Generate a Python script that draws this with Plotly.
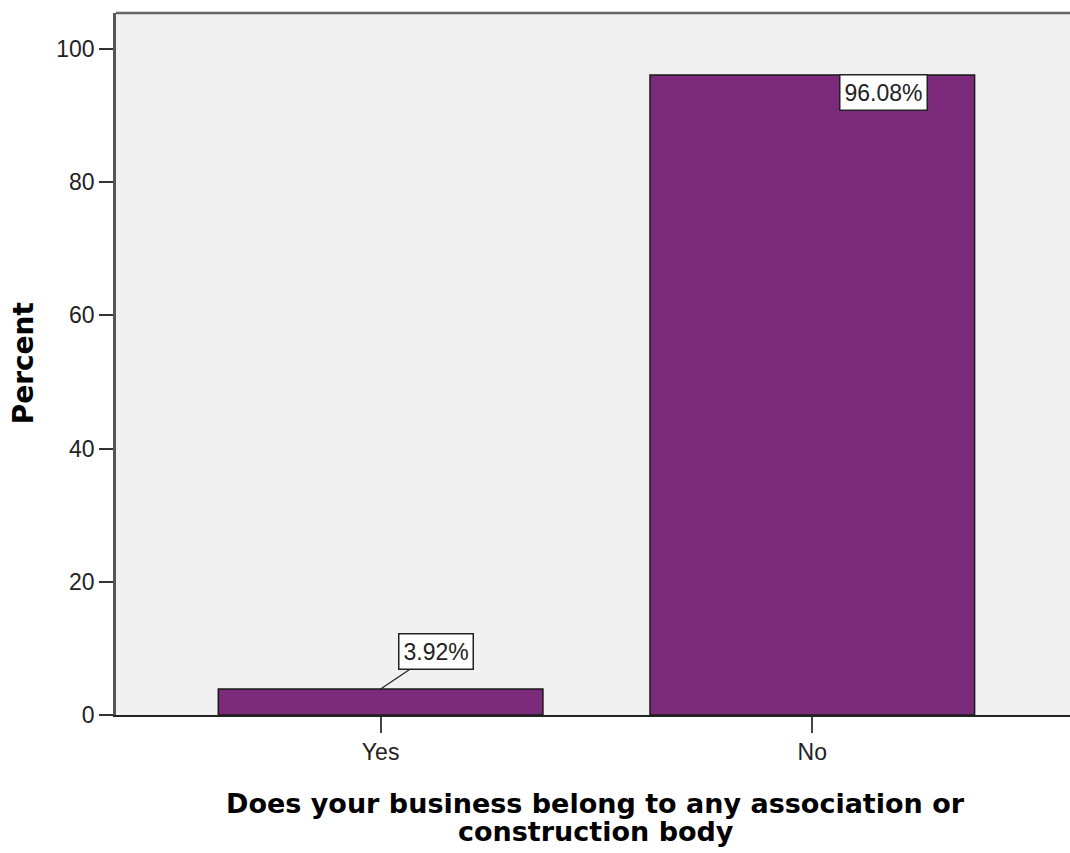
import plotly.graph_objects as go

categories = ["Yes", "No"]
percent = [3.92, 96.08]
y_ticks = [0, 20, 40, 60, 80, 100]

bar_color = "#7B2A7C"
TICK_FONT = "Liberation Sans"
TITLE_FONT = "DejaVu Sans"

fig = go.Figure()
fig.add_trace(go.Bar(
    x=categories, y=percent, width=0.752,
    marker=dict(color=bar_color, line=dict(color="#1a1a1a", width=1.5)),
    hoverinfo="skip",
))

# data labels
fig.add_annotation(x=categories[0], y=percent[0], text=f"{percent[0]:.2f}%",
                   showarrow=True, arrowhead=0, arrowwidth=1.2, arrowcolor="#222",
                   ax=55, ay=-37, bgcolor="white", bordercolor="#222", borderwidth=1.5,
                   borderpad=4, font=dict(family=TICK_FONT, size=23, color="#222"))
fig.add_annotation(x=1.164, y=percent[1] - 2.6, text=f"{percent[1]:.2f}%",
                   showarrow=False, bgcolor="white", bordercolor="#222", borderwidth=1.5,
                   borderpad=4, font=dict(family=TICK_FONT, size=23, color="#222"))

# x-axis title, two lines (centered on full plot region)
fig.add_annotation(xref="paper", yref="paper", x=0.503, y=(715 - 803) / 702, yanchor="middle",
                   text="<b>Does your business belong to any association or</b>",
                   showarrow=False, font=dict(family=TITLE_FONT, size=27, color="black"))
fig.add_annotation(xref="paper", yref="paper", x=0.503, y=(715 - 831) / 702, yanchor="middle",
                   text="<b>construction body</b>",
                   showarrow=False, font=dict(family=TITLE_FONT, size=27, color="black"))
# y-axis title
fig.add_annotation(xref="paper", yref="paper", x=(23 - 116) / 954, y=0.501,
                   xanchor="center", yanchor="middle", textangle=-90,
                   text="<b>Percent</b>", showarrow=False,
                   font=dict(family=TITLE_FONT, size=28, color="black"))

fig.update_layout(
    width=1070, height=853,
    margin=dict(l=116, r=0, t=13, b=138),
    paper_bgcolor="white", plot_bgcolor="#F0F0F0",
    showlegend=False,
    font=dict(family=TICK_FONT, size=23, color="#222"),
)
fig.update_xaxes(range=[-0.613, 1.597], showgrid=False, zeroline=False,
                 showline=True, linecolor="#222", linewidth=1.5,
                 ticks="outside", ticklen=16, tickcolor="#444", tickwidth=2,
                 tickfont=dict(family=TICK_FONT, size=23, color="#222"))
fig.update_yaxes(range=[0, 105.4], tickvals=y_ticks, showgrid=False, zeroline=False,
                 showline=True, linecolor="#555", linewidth=2.5,
                 ticks="outside", ticklen=14, tickcolor="#333", tickwidth=2,
                 tickfont=dict(family=TICK_FONT, size=23, color="#222"))

# top border of plot area
fig.add_shape(type="line", xref="paper", yref="paper", x0=0, x1=1, y0=1, y1=1,
              line=dict(color="#666", width=2.5))

fig.write_html("out.html",
               config={"displayModeBar": False},
               post_script="document.body.style.margin='0';document.body.style.overflow='hidden';")
